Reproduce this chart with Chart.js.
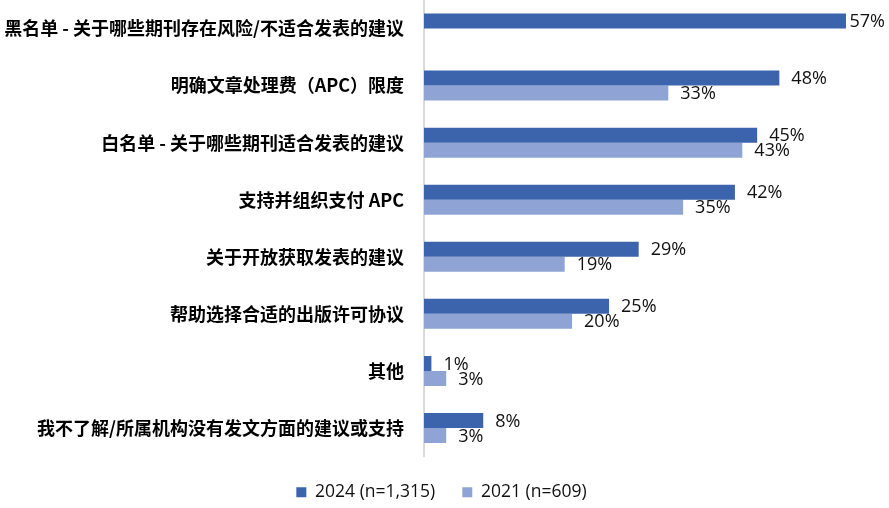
<!DOCTYPE html>
<html>
<head>
<meta charset="utf-8">
<script src="https://cdn.jsdelivr.net/npm/chart.js@4/dist/chart.umd.min.js"></script>
<style>
  body { margin: 0; background: #fff; }
</style>
</head>
<body>
<canvas id="grafico" width="889" height="508"></canvas>
<script>
const categorias = [
  "黑名单 - 关于哪些期刊存在风险/不适合发表的建议",
  "明确文章处理费（APC）限度",
  "白名单 - 关于哪些期刊适合发表的建议",
  "支持并组织支付 APC",
  "关于开放获取发表的建议",
  "帮助选择合适的出版许可协议",
  "其他",
  "我不了解/所属机构没有发文方面的建议或支持"
];
const valores2024 = [57, 48, 45, 42, 29, 25, 1, 8];
const valores2021 = [null, 33, 43, 35, 19, 20, 3, 3];
const rotulos = ["2024 (n=1,315)", "2021 (n=609)"];

// rótulos de valor no fim de cada barra
const rotulosBarras = {
  id: "rotulosBarras",
  afterDatasetsDraw(chart) {
    const ctx = chart.ctx;
    ctx.save();
    ctx.font = "18px 'Open Sans', 'Noto Sans', sans-serif";
    ctx.fillStyle = "#111";
    ctx.textBaseline = "middle";
    chart.data.datasets.forEach((ds, i) => {
      chart.getDatasetMeta(i).data.forEach((bar, j) => {
        const v = ds.data[j];
        if (v == null) return;
        const txt = v + "%";
        const w = ctx.measureText(txt).width;
        const x = Math.min(bar.x + 12, chart.width - w - 4);
        ctx.fillText(txt, x, bar.y + 1);
      });
    });
    ctx.restore();
  }
};

const ctx = document.getElementById("grafico").getContext("2d");
new Chart(ctx, {
  type: "bar",
  data: {
    labels: categorias,
    datasets: [
      { label: rotulos[0], data: valores2024, backgroundColor: "#3C64AC" },
      { label: rotulos[1], data: valores2021, backgroundColor: "#8FA4D4" }
    ]
  },
  options: {
    indexAxis: "y",
    responsive: false,
    animation: false,
    layout: { padding: { top: 0, right: 6, bottom: -3, left: 0 } },
    datasets: { bar: { categoryPercentage: 0.526, barPercentage: 1 } },
    scales: {
      x: { display: false, min: 0, max: 62 },
      y: {
        grid: { display: false, drawTicks: false },
        border: { display: true, color: "#D9D9D9", width: 2 },
        ticks: {
          padding: 20,
          color: "#000",
          font: { family: "'Noto Sans CJK SC', sans-serif", size: 18, weight: "bold" }
        },
        afterFit(scale) {
          scale.paddingTop = 0;
          scale.paddingBottom = 0;
          scale.width = 424;
        }
      }
    },
    plugins: {
      tooltip: { enabled: false },
      legend: {
        position: "bottom",
        labels: {
          boxWidth: 10,
          boxHeight: 10,
          padding: 27,
          color: "#111",
          font: { family: "'Open Sans', 'Noto Sans', sans-serif", size: 17.5 }
        }
      }
    }
  },
  plugins: [rotulosBarras]
});
</script>
</body>
</html>
